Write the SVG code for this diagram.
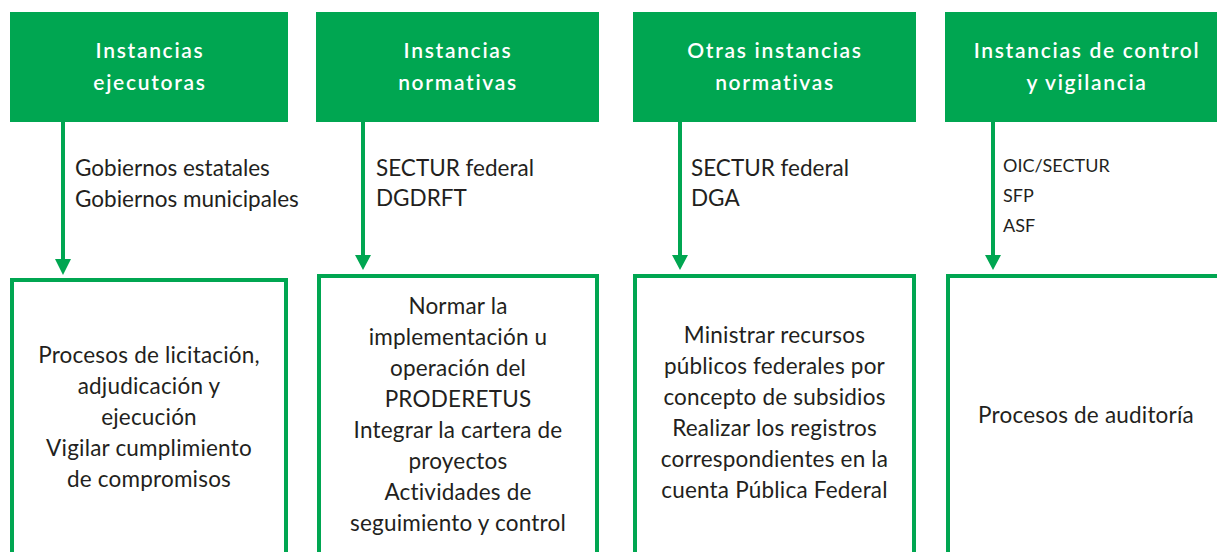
<svg xmlns="http://www.w3.org/2000/svg" width="1217" height="552" viewBox="0 0 1217 552">
<style>
.hdr{fill:#00A651}
.hdr-t{fill:#fff;font-family:Lato,"Liberation Sans",sans-serif;font-size:21px;font-weight:600;letter-spacing:1.7px;text-anchor:middle}
.box{fill:#fff;stroke:#00A651;stroke-width:4}
.body{fill:#231F20;font-family:Lato,"Liberation Sans",sans-serif;font-size:22.5px;letter-spacing:0.2px;text-anchor:middle}
.lbl{fill:#231F20;font-family:Lato,"Liberation Sans",sans-serif;font-size:22.5px}
.lbl-s{fill:#231F20;font-family:Lato,"Liberation Sans",sans-serif;font-size:18px}
.conn{stroke:#00A651;stroke-width:4;fill:none}
.head{fill:#00A651}
</style>
<rect width="1217" height="552" fill="#fff"/>
<g id="connectors">
<line class="conn" x1="63" y1="121" x2="63" y2="262"/>
<polygon class="head" points="55,259 71,259 63,275"/>
<line class="conn" x1="363" y1="121" x2="363" y2="258"/>
<polygon class="head" points="355,255 371,255 363,270"/>
<line class="conn" x1="680" y1="121" x2="680" y2="258"/>
<polygon class="head" points="672,255 688,255 680,270"/>
<line class="conn" x1="993" y1="121" x2="993" y2="258"/>
<polygon class="head" points="985,255 1001,255 993,270"/>
<text class="lbl" x="75" y="176">Gobiernos estatales</text>
<text class="lbl" x="75" y="207">Gobiernos municipales</text>
<text class="lbl" x="376" y="176">SECTUR federal</text>
<text class="lbl" x="376" y="206">DGDRFT</text>
<text class="lbl" x="691" y="176">SECTUR federal</text>
<text class="lbl" x="691" y="206">DGA</text>
<text class="lbl-s" x="1003" y="172">OIC/SECTUR</text>
<text class="lbl-s" x="1003" y="202">SFP</text>
<text class="lbl-s" x="1003" y="232">ASF</text>
</g>
<g id="h1">
<rect class="hdr" x="10" y="12" width="278" height="110"/>
<text class="hdr-t" x="150" y="58">Instancias</text>
<text class="hdr-t" x="150" y="90">ejecutoras</text>
</g>
<g id="h2">
<rect class="hdr" x="316" y="12" width="283" height="110"/>
<text class="hdr-t" x="458" y="58">Instancias</text>
<text class="hdr-t" x="458" y="90">normativas</text>
</g>
<g id="h3">
<rect class="hdr" x="633" y="12" width="283" height="110"/>
<text class="hdr-t" x="775" y="58">Otras instancias</text>
<text class="hdr-t" x="775" y="90">normativas</text>
</g>
<g id="h4">
<rect class="hdr" x="945" y="12" width="283" height="110"/>
<text class="hdr-t" x="1087" y="58">Instancias de control</text>
<text class="hdr-t" x="1087" y="90">y vigilancia</text>
</g>
<g id="b1">
<rect class="box" x="12" y="280" width="274" height="290"/>
<text class="body" x="149" y="363">Procesos de licitación,</text>
<text class="body" x="149" y="394">adjudicación y</text>
<text class="body" x="149" y="425">ejecución</text>
<text class="body" x="149" y="456">Vigilar cumplimiento</text>
<text class="body" x="149" y="487">de compromisos</text>
</g>
<g id="b2">
<rect class="box" x="319" y="276" width="278" height="294"/>
<text class="body" x="458" y="314">Normar la</text>
<text class="body" x="458" y="345">implementación u</text>
<text class="body" x="458" y="376">operación del</text>
<text class="body" x="458" y="407">PRODERETUS</text>
<text class="body" x="458" y="438">Integrar la cartera de</text>
<text class="body" x="458" y="469">proyectos</text>
<text class="body" x="458" y="500">Actividades de</text>
<text class="body" x="458" y="531">seguimiento y control</text>
</g>
<g id="b3">
<rect class="box" x="635" y="276" width="279" height="294"/>
<text class="body" x="774.5" y="343">Ministrar recursos</text>
<text class="body" x="774.5" y="374">públicos federales por</text>
<text class="body" x="774.5" y="405">concepto de subsidios</text>
<text class="body" x="774.5" y="436">Realizar los registros</text>
<text class="body" x="774.5" y="467">correspondientes en la</text>
<text class="body" x="774.5" y="498">cuenta Pública Federal</text>
</g>
<g id="b4">
<rect class="box" x="948" y="276" width="280" height="294"/>
<text class="body" x="1086" y="423">Procesos de auditoría</text>
</g>
</svg>
